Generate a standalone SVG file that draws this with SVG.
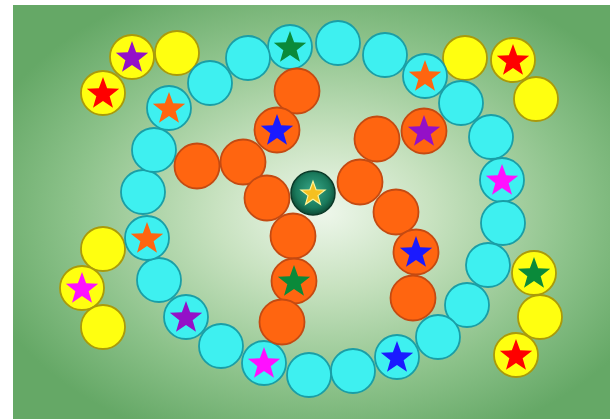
<svg xmlns="http://www.w3.org/2000/svg" xmlns:xlink="http://www.w3.org/1999/xlink" width="616" height="419" viewBox="0 0 616 419">
<defs>
<radialGradient id="bg" cx="0.52" cy="0.5" r="0.6">
<stop offset="0" stop-color="#eef7eb"/>
<stop offset="0.3" stop-color="#c8e2c0"/>
<stop offset="0.7" stop-color="#8cc28a"/>
<stop offset="1" stop-color="#65a866"/>
</radialGradient>
<radialGradient id="ctr" cx="0.5" cy="0.45" r="0.55">
<stop offset="0" stop-color="#3aa88a"/>
<stop offset="0.7" stop-color="#1a7a5c"/>
<stop offset="1" stop-color="#0d4a34"/>
</radialGradient>
<path id="star" d="M0,-17 L4.11,-5.66 L16.17,-5.25 L6.66,2.16 L9.99,13.75 L0,7 L-9.99,13.75 L-6.66,2.16 L-16.17,-5.25 L-4.11,-5.66 Z"/>
<style>
.c{fill:#3ef0f0;stroke:#1a9ea6;stroke-width:1.8}
.o{fill:#ff6510;stroke:#c44a12;stroke-width:1.8}
.y{fill:#ffff10;stroke:#aa9a0a;stroke-width:1.8}
</style>
</defs>
<rect x="0" y="0" width="616" height="419" fill="#ffffff"/>
<rect x="13" y="5" width="597" height="414" fill="url(#bg)"/>
<g id="yellow">
<g id="y1"><circle class="y" cx="132" cy="57" r="22"/><use href="#star" x="132" y="58" fill="#9410c8"/></g>
<g id="y2"><circle class="y" cx="177" cy="53" r="22"/></g>
<g id="y3"><circle class="y" cx="103" cy="93" r="22"/><use href="#star" x="103" y="94" fill="#ff0000"/></g>
<g id="y4"><circle class="y" cx="465" cy="58" r="22"/></g>
<g id="y5"><circle class="y" cx="513" cy="60" r="22"/><use href="#star" x="513" y="61" fill="#ff0000"/></g>
<g id="y6"><circle class="y" cx="536" cy="99" r="22"/></g>
<g id="y7"><circle class="y" cx="103" cy="249" r="22"/></g>
<g id="y8"><circle class="y" cx="82" cy="288" r="22"/><use href="#star" x="82" y="289" fill="#ff10ff"/></g>
<g id="y9"><circle class="y" cx="103" cy="327" r="22"/></g>
<g id="y10"><circle class="y" cx="534" cy="273" r="22"/><use href="#star" x="534" y="274" fill="#0a8a3a"/></g>
<g id="y11"><circle class="y" cx="540" cy="317" r="22"/></g>
<g id="y12"><circle class="y" cx="516" cy="355" r="22"/><use href="#star" x="516" y="356" fill="#ff0000"/></g>
</g>
<g id="cyan">
<g id="c1"><circle class="c" cx="290" cy="47" r="22"/><use href="#star" x="290" y="48" fill="#0a8a3a"/></g>
<g id="c2"><circle class="c" cx="338" cy="43" r="22"/></g>
<g id="c3"><circle class="c" cx="385" cy="55" r="22"/></g>
<g id="c4"><circle class="c" cx="425" cy="76" r="22"/><use href="#star" x="425" y="77" fill="#ff6510"/></g>
<g id="c5"><circle class="c" cx="461" cy="103" r="22"/></g>
<g id="c6"><circle class="c" cx="491" cy="137" r="22"/></g>
<g id="c7"><circle class="c" cx="502" cy="180" r="22"/><use href="#star" x="502" y="181" fill="#ff10ff"/></g>
<g id="c8"><circle class="c" cx="503" cy="223" r="22"/></g>
<g id="c9"><circle class="c" cx="488" cy="265" r="22"/></g>
<g id="c10"><circle class="c" cx="467" cy="305" r="22"/></g>
<g id="c11"><circle class="c" cx="438" cy="337" r="22"/></g>
<g id="c12"><circle class="c" cx="397" cy="357" r="22"/><use href="#star" x="397" y="358" fill="#1a1aff"/></g>
<g id="c13"><circle class="c" cx="353" cy="371" r="22"/></g>
<g id="c14"><circle class="c" cx="309" cy="375" r="22"/></g>
<g id="c15"><circle class="c" cx="264" cy="363" r="22"/><use href="#star" x="264" y="364" fill="#ff10ff"/></g>
<g id="c16"><circle class="c" cx="221" cy="346" r="22"/></g>
<g id="c17"><circle class="c" cx="186" cy="317" r="22"/><use href="#star" x="186" y="318" fill="#9410c8"/></g>
<g id="c18"><circle class="c" cx="159" cy="280" r="22"/></g>
<g id="c19"><circle class="c" cx="147" cy="238" r="22"/><use href="#star" x="147" y="239" fill="#ff6510"/></g>
<g id="c20"><circle class="c" cx="143" cy="192" r="22"/></g>
<g id="c21"><circle class="c" cx="154" cy="150" r="22"/></g>
<g id="c22"><circle class="c" cx="169" cy="108" r="22"/><use href="#star" x="169" y="109" fill="#ff6510"/></g>
<g id="c23"><circle class="c" cx="210" cy="83" r="22"/></g>
<g id="c24"><circle class="c" cx="248" cy="58" r="22"/></g>
</g>
<g id="orange">
<g id="o1"><circle class="o" cx="297" cy="91" r="22.5"/></g>
<g id="o2"><circle class="o" cx="277" cy="130" r="22.5"/><use href="#star" x="277" y="131" fill="#1a1aff"/></g>
<g id="o3"><circle class="o" cx="197" cy="166" r="22.5"/></g>
<g id="o4"><circle class="o" cx="243" cy="162" r="22.5"/></g>
<g id="o5"><circle class="o" cx="267" cy="198" r="22.5"/></g>
<g id="o6"><circle class="o" cx="293" cy="236" r="22.5"/></g>
<g id="o7"><circle class="o" cx="294" cy="281" r="22.5"/><use href="#star" x="294" y="282" fill="#0a8a3a"/></g>
<g id="o8"><circle class="o" cx="282" cy="322" r="22.5"/></g>
<g id="o9"><circle class="o" cx="377" cy="139" r="22.5"/></g>
<g id="o10"><circle class="o" cx="424" cy="131" r="22.5"/><use href="#star" x="424" y="132" fill="#9410c8"/></g>
<g id="o11"><circle class="o" cx="360" cy="182" r="22.5"/></g>
<g id="o12"><circle class="o" cx="396" cy="212" r="22.5"/></g>
<g id="o13"><circle class="o" cx="416" cy="252" r="22.5"/><use href="#star" x="416" y="253" fill="#1a1aff"/></g>
<g id="o14"><circle class="o" cx="413" cy="298" r="22.5"/></g>
</g>
<g id="centre">
<circle cx="313" cy="193" r="22" fill="url(#ctr)" stroke="#0b3a28" stroke-width="1.5"/>
<use href="#star" transform="translate(313,194) scale(0.75)" fill="#f5c020" stroke="#fff59a" stroke-width="1.5"/>
</g>
<g id="connectors"/>
</svg>
